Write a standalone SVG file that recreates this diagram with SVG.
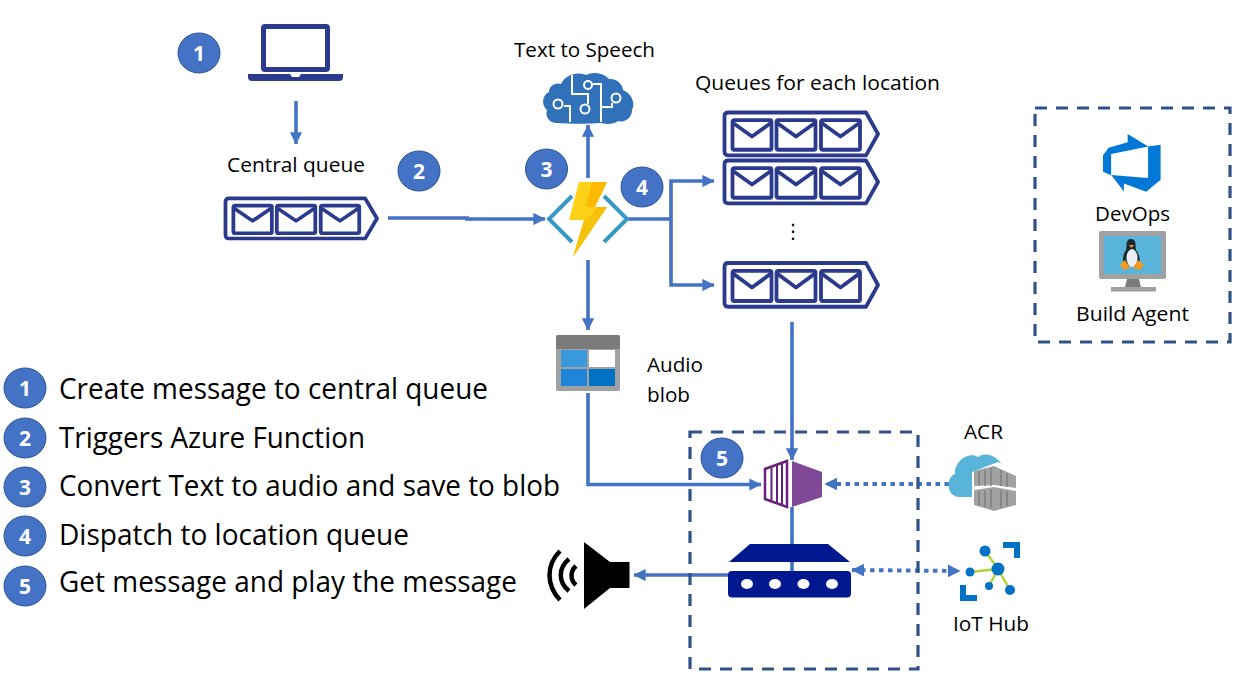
<svg xmlns="http://www.w3.org/2000/svg" xmlns:xlink="http://www.w3.org/1999/xlink" width="1237" height="682" viewBox="0 0 1237 682">
<style>
text{font-family:"Open Sans","Noto Sans","Liberation Sans",sans-serif;fill:#000}
.lb{font-size:20.500px}
.lg{font-size:29px}
.b circle,.b ellipse{fill:#4472c4;stroke:#2f5597;stroke-width:1}
.n{font-size:21px;font-weight:700;fill:#fff;text-anchor:middle}
.c{fill:none;stroke:#4472c4;stroke-width:3.600}
.d{fill:none;stroke:#4472c4;stroke-width:4;stroke-dasharray:4.500 4.500}
.box{fill:none;stroke:#2f5288;stroke-width:3.200;stroke-dasharray:12 9}
.q{fill:none;stroke:#2b3a8c;stroke-width:3.800;stroke-linejoin:round}
</style>
<defs>
<marker id="a" viewBox="0 0 10 10" refX="9.500" refY="5" markerWidth="3.400" markerHeight="3.400" orient="auto-start-reverse" markerUnits="strokeWidth"><path d="M0 0L10 5L0 10z" fill="#4472c4"/></marker>
<marker id="ad" viewBox="0 0 10 10" refX="9.500" refY="5" markerWidth="3.200" markerHeight="3.200" orient="auto-start-reverse" markerUnits="strokeWidth"><path d="M0 0L10 5L0 10z" fill="#4472c4"/></marker>
<g id="env"><rect x="0" y="0" width="39" height="29" rx="1.500" class="q"/><path d="M1 3L19.500 16L38 3" class="q"/></g>
<g id="queue">
<path d="M5 1.500H143L155 22.500L143 43.500H5Q1.500 43.500 1.500 40V5Q1.500 1.500 5 1.500Z" class="q"/>
<use xlink:href="#env" x="9.500" y="9"/><use xlink:href="#env" x="53.500" y="9"/><use xlink:href="#env" x="98" y="9"/>
</g>
</defs>
<rect width="1237" height="682" fill="#fff"/>

<g id="connectors">
<path class="c" d="M296 101V144" marker-end="url(#a)"/>
<path class="c" d="M388 218H467V219H545" marker-end="url(#a)"/>
<path class="c" d="M588 178V125" marker-end="url(#a)"/>
<path class="c" d="M628 219H671V181H714" marker-end="url(#a)"/>
<path class="c" d="M671 219V285H714" marker-end="url(#a)"/>
<path class="c" d="M588 260V330" marker-end="url(#a)"/>
<path class="c" d="M588 393V484.500H761" marker-end="url(#a)"/>
<path class="c" d="M792 322V460" marker-end="url(#a)"/>
<path class="c" d="M792 507V572"/>
<path class="c" d="M729 575H634" marker-end="url(#a)"/>
<path class="d" d="M949 484H825" marker-end="url(#ad)"/>
<path class="d" d="M852 570L960 571" marker-start="url(#ad)" marker-end="url(#ad)"/>
</g>

<g id="edge-box"><rect class="box" x="690" y="432" width="228" height="237"/></g>
<g id="devops-box"><rect class="box" x="1035" y="108" width="195" height="234"/></g>

<g id="laptop">
<rect x="263.500" y="26.500" width="64" height="43" rx="1.500" fill="none" stroke="#2b3a8c" stroke-width="5"/>
<path d="M248 74H290L292 77H299L301 74H343V77Q343 81 339 81H252Q248 81 248 77Z" fill="#2b3a8c"/>
</g>

<g id="central-queue">
<use xlink:href="#queue" transform="translate(224 197) scale(.987 .955)"/>
<text class="lb" x="227" y="172" textLength="138" lengthAdjust="spacingAndGlyphs">Central queue</text>
</g>

<g id="text-to-speech">
<path d="M556 123C548 122 545 116 547 110C541 105 542 95 549 92C549 86 555 82 561 84C565 75 577 71 586 75C593 71 604 73 609 79C616 78 623 84 623 90C631 93 636 103 632 110C632 118 625 123 618 121C613 125 605 124 600 123C590 124 570 124 556 123Z" fill="#3071b9"/>
<g fill="none" stroke="#fff" stroke-width="2">
<path d="M572 75V94H588V104"/><path d="M601 122V84H593"/><path d="M601 107H612V103"/><path d="M570 122V106H564"/>
<circle cx="588" cy="85" r="4"/><circle cx="585" cy="109" r="4.500"/><circle cx="616" cy="98" r="4.500"/><circle cx="558" cy="104" r="4.500"/>
</g>
<text class="lb" x="514" y="57" textLength="141" lengthAdjust="spacingAndGlyphs">Text to Speech</text>
</g>

<g id="function">
<path d="M572 196L549 219L572 242M604 196L627 219L604 242" fill="none" stroke="#3999c6" stroke-width="4"/>
<path d="M579 182H607L595 207H607L573 257L584 220H569Z" fill="#fcd116"/>
<path d="M592 182H607L595 207H607L582 243L597 207H586Z" fill="#ffb900"/>
<path d="M589 216L607 207L573 257L584 220Z" fill="#f7c30a"/>
</g>

<g id="location-queues">
<use xlink:href="#queue" transform="translate(723 111) scale(1 1.020)"/>
<use xlink:href="#queue" transform="translate(723 159) scale(1 1.020)"/>
<text x="793" y="238" font-size="20" text-anchor="middle" style="font-family:'DejaVu Sans',sans-serif">⋮</text>
<use xlink:href="#queue" transform="translate(723 261.500) scale(1 1.040)"/>
<text class="lb" x="695" y="90" textLength="245" lengthAdjust="spacingAndGlyphs">Queues for each location</text>
</g>

<g id="audio-blob">
<rect x="556" y="335" width="64" height="56" rx="2" fill="#a0a1a2"/>
<path d="M556 349V337Q556 335 558 335H618Q620 335 620 337V349Z" fill="#7a7a7a"/>
<rect x="561" y="350" width="26" height="17" fill="#3999dc"/><rect x="589" y="350" width="26" height="17" fill="#fff"/>
<rect x="561" y="369" width="26" height="17" fill="#1f85d8"/><rect x="589" y="369" width="26" height="17" fill="#0072c6"/>
<text class="lb" x="647" y="372" textLength="56" lengthAdjust="spacingAndGlyphs">Audio</text>
<text class="lb" x="647" y="402" textLength="43" lengthAdjust="spacingAndGlyphs">blob</text>
</g>

<g id="container">
<path d="M787 461L765 469V499L787 507Z" fill="#fff" stroke="#68217a" stroke-width="2.500"/>
<path d="M771.500 468V500M777 466V502M782 464V504" stroke="#68217a" stroke-width="2" fill="none"/>
<path d="M792 461L822 472V497L792 507Z" fill="#804998"/>
</g>

<g id="device">
<path d="M750 544H828L850 562H729Z" fill="#00188f"/>
<rect x="728" y="571" width="123" height="26.500" rx="4" fill="#00188f"/>
<g fill="#fff"><ellipse cx="747" cy="584" rx="6" ry="5"/><ellipse cx="775" cy="584" rx="6" ry="5"/><ellipse cx="803.500" cy="584" rx="6" ry="5"/><ellipse cx="832" cy="584" rx="6" ry="5"/></g>
</g>

<g id="speaker">
<path d="M584 542L610 562H629.500V588H610L584 609Z" fill="#000"/>
<g fill="none" stroke="#000" stroke-width="4.500">
<path d="M560 551C546 565 546 585 560 600"/><path d="M569 559C558 568 558 582 569 591"/><path d="M576 566C570 571 570 580 576 585"/>
</g>
</g>

<g id="acr">
<path d="M958 497C946 495 946 477 955 474C954 462 968 451 978 457C986 451 1000 456 1004 470L1005 497Z" fill="#59b4d9"/>
<path d="M972 472L998 462L1018 473V490L1018 512H972Z" fill="#fff"/>
<path d="M974 471L994 466L1016 476V488L994 485L974 486Z" fill="#a0a1a2"/>
<path d="M974 490L994 487L1016 491V505L994 511L974 505Z" fill="#a0a1a2"/>
<path d="M979 471V486M985 470V486M991 468V486M1001 470V486M1007 473V487M979 491V505M985 490V507M991 489V508M1001 490V508M1007 491V506" stroke="#7f7f7f" stroke-width="1.500"/>
<text class="lb" x="964" y="439" textLength="39" lengthAdjust="spacingAndGlyphs">ACR</text>
</g>

<g id="iot-hub">
<path d="M998 569L985 551M998 569L970 572M998 569L989 586M998 569L1010 590" stroke="#b4d334" stroke-width="2.500"/>
<g fill="#0072c6"><circle cx="998" cy="569" r="6.500"/><circle cx="985" cy="551" r="5.500"/><circle cx="970" cy="572" r="4.500"/><circle cx="989" cy="586" r="4"/><circle cx="1010" cy="590" r="5"/></g>
<path d="M1003 542H1020V558H1014V548H1003ZM960 585H966V595H977V601H960Z" fill="#0072c6"/>
<text class="lb" x="953" y="631" textLength="76" lengthAdjust="spacingAndGlyphs">IoT Hub</text>
</g>

<g id="devops">
<path transform="translate(1099.400 130.400) scale(3.600)" d="M17 4v9.740l-4 3.280-6.200-2.260V17L3.290 12.410l10.230.8V4.440Zm-3.410.49L7.850 1V3.290L2.580 4.840 1 6.870v4.610l2.260 1V6.570Z" fill="#0078d7"/>
<text class="lb" x="1095" y="221" textLength="75" lengthAdjust="spacingAndGlyphs">DevOps</text>
</g>

<g id="build-agent">
<rect x="1099" y="231" width="67" height="48" rx="2" fill="#a0a1a2"/>
<rect x="1104" y="236" width="57" height="38" fill="#59b4d9"/>
<path d="M1127 279H1139L1141 287H1125Z" fill="#7a7a7a"/><rect x="1111" y="287" width="45" height="4.500" fill="#a0a1a2"/>
<path d="M1131 239C1125 239 1127 247 1126 250C1123 254 1122 260 1124 266H1139C1141 260 1139 254 1136 250C1135 246 1137 239 1131 239Z" fill="#1b2a33"/>
<ellipse cx="1132" cy="258" rx="5.500" ry="9" fill="#e8eef2"/>
<path d="M1120 265L1125 260L1130 268L1124 270ZM1144 265L1138 260L1133 268L1140 270Z" fill="#f29a1f"/>
<path d="M1129 245L1134 245L1131.500 248Z" fill="#f29a1f"/>
<text class="lb" x="1076" y="321" textLength="113" lengthAdjust="spacingAndGlyphs">Build Agent</text>
</g>

<g id="badge-1" class="b"><ellipse cx="199" cy="53" rx="21" ry="20"/><text class="n" x="199" y="60.500">1</text></g>
<g id="badge-2" class="b"><ellipse cx="419" cy="171" rx="21" ry="20"/><text class="n" x="419" y="178.500">2</text></g>
<g id="badge-3" class="b"><ellipse cx="546.500" cy="169" rx="21" ry="20"/><text class="n" x="546.500" y="176.500">3</text></g>
<g id="badge-4" class="b"><ellipse cx="642" cy="187" rx="21" ry="20"/><text class="n" x="642" y="194.500">4</text></g>
<g id="badge-5" class="b"><ellipse cx="722" cy="458" rx="21" ry="20"/><text class="n" x="722" y="465.500">5</text></g>

<g id="legend">
<g class="b"><ellipse cx="25" cy="388" rx="21" ry="20"/><text class="n" x="25" y="395.500">1</text></g>
<text class="lg" x="59" y="399" textLength="429" lengthAdjust="spacingAndGlyphs">Create message to central queue</text>
<g class="b"><ellipse cx="25" cy="438" rx="21" ry="20"/><text class="n" x="25" y="445.500">2</text></g>
<text class="lg" x="59" y="448" textLength="306" lengthAdjust="spacingAndGlyphs">Triggers Azure Function</text>
<g class="b"><ellipse cx="25" cy="487" rx="21" ry="20"/><text class="n" x="25" y="494.500">3</text></g>
<text class="lg" x="59" y="496" textLength="501" lengthAdjust="spacingAndGlyphs">Convert Text to audio and save to blob</text>
<g class="b"><ellipse cx="25" cy="536" rx="21" ry="20"/><text class="n" x="25" y="543.500">4</text></g>
<text class="lg" x="59" y="545" textLength="350" lengthAdjust="spacingAndGlyphs">Dispatch to location queue</text>
<g class="b"><ellipse cx="25" cy="586" rx="21" ry="20"/><text class="n" x="25" y="593.500">5</text></g>
<text class="lg" x="59" y="592" textLength="458" lengthAdjust="spacingAndGlyphs">Get message and play the message</text>
</g>
</svg>
